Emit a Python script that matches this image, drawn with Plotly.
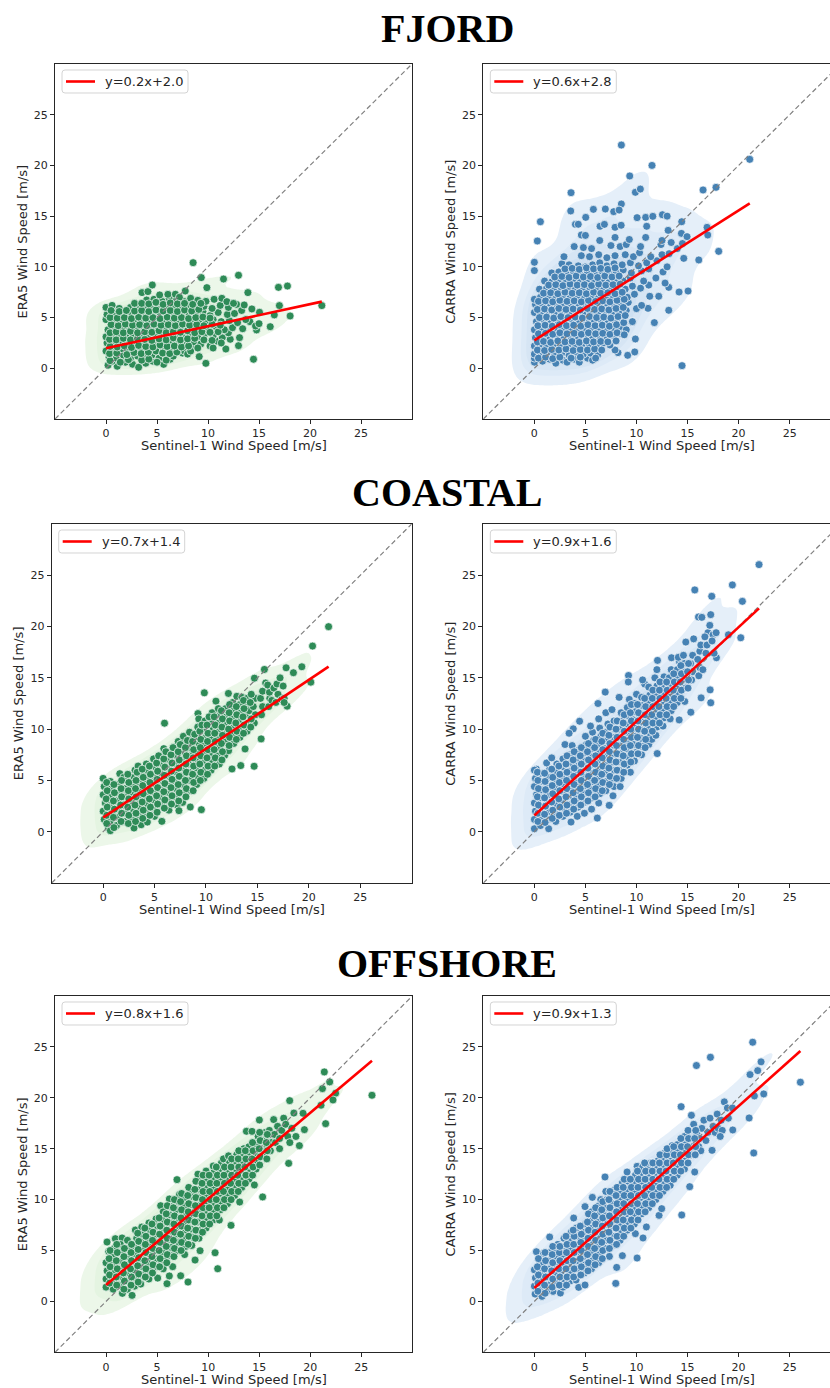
import numpy as np
import plotly.graph_objects as go

# ---------------- data ----------------
region_titles = ["FJORD", "COASTAL", "OFFSHORE"]
x_label = "Sentinel-1 Wind Speed [m/s]"
y_labels = ["ERA5 Wind Speed [m/s]", "CARRA Wind Speed [m/s]"]
tick_values = [0, 5, 10, 15, 20, 25]

# (Sentinel-1, model) pairs - outer/sparse points
fjord_era5 = [
    (0.2, 0.3), (1.1, 0.2), (1.9, 0.6), (2.6, 0.4), (3.2, 0.1), (3.9, 0.5), (4.6, 0.7), (5.65, 0.39), (6.3, 0.9), (0.6, 0.7),
    (0.3, 1.1), (1.0, 1.0), (1.7, 1.3), (2.4, 1.0), (3.1, 1.2), (3.8, 1.1), (4.5, 1.3), (5.2, 1.0), (5.9, 1.3), (6.6, 1.2), (7.5, 1.5), (9.14, 1.15),
    (0.0, 1.7), (0.7, 1.8), (1.4, 1.9), (2.1, 1.7), (2.8, 2.0), (3.5, 1.8), (4.2, 1.9), (4.9, 1.7), (5.6, 2.0), (6.3, 1.8), (7.0, 1.9), (7.7, 1.7), (8.4, 2.0), (11.75, 1.9),
    (0.1, 2.5), (0.9, 2.4), (1.6, 2.6), (2.3, 2.4), (3.0, 2.7), (3.7, 2.5), (4.4, 2.4), (5.1, 2.6), (5.8, 2.4), (6.5, 2.7), (7.2, 2.5), (7.9, 2.3), (8.6, 2.6), (9.3, 2.4), (10.87, 2.69), (12.99, 2.23), (10.2, 2.2),
    (0.0, 3.1), (0.6, 3.3), (1.3, 3.1), (2.0, 3.3), (2.7, 3.2), (3.4, 3.4), (4.1, 3.1), (4.8, 3.3), (5.5, 3.1), (6.2, 3.4), (6.9, 3.2), (7.6, 3.0), (8.3, 3.3), (9.0, 3.1), (9.7, 3.4), (10.5, 3.2), (11.4, 3.0), (12.18, 2.86), (13.09, 3.02), (12.0, 3.5),
    (0.2, 3.8), (0.9, 4.0), (1.6, 3.9), (2.3, 4.1), (3.0, 3.8), (3.7, 4.0), (4.4, 3.9), (5.1, 4.1), (5.8, 3.8), (6.5, 4.0), (7.2, 3.9), (7.9, 4.1), (8.6, 3.8), (9.3, 4.0), (10.0, 3.9), (10.8, 4.1), (11.6, 3.8), (12.4, 4.0), (13.4, 3.9), (14.76, 3.78), (14.1, 4.6), (14.66, 4.17), (15.0, 4.4),
    (0.0, 4.8), (0.7, 4.6), (1.4, 4.5), (2.1, 4.8), (2.8, 4.6), (3.5, 4.7), (4.2, 4.5), (4.9, 4.8), (5.6, 4.6), (6.3, 4.7), (7.0, 4.5), (7.7, 4.8), (8.4, 4.6), (9.1, 4.7), (9.8, 4.5), (10.5, 4.8), (11.3, 4.6), (12.1, 4.7), (12.9, 4.5), (13.7, 4.8),
    (0.1, 5.3), (0.9, 5.4), (1.7, 5.2), (2.5, 5.5), (3.2, 5.3), (3.9, 5.4), (4.6, 5.2), (5.3, 5.5), (6.0, 5.3), (6.7, 5.4), (7.4, 5.2), (8.1, 5.5), (8.8, 5.3), (9.5, 5.6), (10.2, 5.2), (11.0, 5.5), (11.9, 5.3), (12.6, 5.4), (13.3, 5.7), (14.3, 5.85), (15.05, 5.52), (16.5, 5.26), (18.05, 5.16), (16.1, 4.1),
    (0.0, 6.0), (0.6, 6.2), (1.3, 5.9), (2.4, 6.0), (3.1, 5.9), (3.8, 6.1), (4.5, 5.9), (5.2, 6.2), (5.9, 6.0), (6.6, 6.1), (7.3, 5.9), (8.0, 6.2), (8.8, 6.0), (9.6, 6.1), (10.4, 5.9), (11.2, 6.2), (12.0, 6.0), (12.8, 6.3), (13.55, 6.24), (17.0, 6.18), (21.16, 6.18),
    (3.98, 6.73), (4.7, 6.8), (5.5, 6.6), (6.2, 6.9), (6.9, 6.7), (7.6, 6.6), (8.3, 6.9), (9.0, 6.7), (9.8, 6.6), (10.6, 6.8), (11.36, 6.9), (11.85, 6.57), (12.5, 6.4),
    (3.53, 7.46), (4.11, 7.56), (4.54, 8.21), (5.26, 7.23), (6.07, 7.29), (6.8, 7.3), (7.77, 7.62), (8.54, 10.41), (9.34, 8.94), (11.52, 8.80), (12.99, 9.17), (9.89, 7.95), (13.91, 7.46), (16.91, 7.98), (17.79, 8.11), (7.2, 7.0),
    (14.46, 0.89), (9.79, 0.49), (10.5, 2.0), (11.3, 2.5), (8.0, 1.4),
]
fjord_era5_core = [
    (0.4, 0.75), (1.4, 0.6), (2.2, 0.85), (3.5, 0.8), (4.2, 0.9), (5.0, 0.6), (5.9, 0.8),
    (0.35, 1.45), (1.05, 1.5), (2.05, 1.35), (2.75, 1.55), (3.45, 1.45), (4.15, 1.6), (5.55, 1.5), (6.25, 1.45), (6.95, 1.6), (8.3, 1.7),
    (0.4, 2.15), (1.1, 2.1), (1.8, 2.2), (2.5, 2.05), (3.2, 2.25), (3.9, 2.15), (4.6, 2.1), (5.3, 2.3), (6.0, 2.15), (6.7, 2.2), (7.4, 2.1), (8.1, 2.2), (9.0, 2.0),
    (0.35, 2.85), (1.0, 2.8), (1.7, 2.95), (2.4, 2.8), (3.1, 2.95), (3.8, 2.85), (4.5, 2.75), (5.2, 2.9), (5.9, 2.8), (6.6, 3.0), (7.3, 2.8), (8.0, 2.9), (8.7, 2.95), (9.6, 2.8), (10.4, 2.75),
    (0.4, 3.5), (1.0, 3.6), (1.7, 3.5), (2.4, 3.65), (3.1, 3.5), (3.8, 3.6), (4.5, 3.55), (5.2, 3.7), (5.9, 3.5), (6.6, 3.6), (7.3, 3.55), (8.0, 3.7), (8.7, 3.5), (9.4, 3.6), (10.2, 3.55), (11.0, 3.6),
    (0.5, 4.3), (1.2, 4.2), (1.9, 4.35), (2.6, 4.25), (3.3, 4.3), (4.0, 4.2), (4.7, 4.35), (5.4, 4.25), (6.1, 4.3), (6.8, 4.2), (7.5, 4.35), (8.2, 4.25), (8.9, 4.3), (9.6, 4.2), (10.4, 4.35), (11.2, 4.25),
    (0.4, 5.0), (1.1, 4.95), (1.8, 5.0), (2.5, 4.9), (3.2, 5.05), (3.9, 4.95), (4.6, 5.0), (5.3, 4.9), (6.0, 5.05), (6.7, 4.95), (7.4, 5.0), (8.1, 4.9), (8.8, 5.0), (9.5, 5.05), (10.2, 4.95),
    (0.5, 5.7), (1.3, 5.6), (2.0, 5.7), (2.8, 5.65), (3.5, 5.7), (4.2, 5.6), (4.9, 5.75), (5.6, 5.65), (6.3, 5.7), (7.0, 5.6), (7.7, 5.75), (8.4, 5.65), (9.1, 5.8),
    (2.8, 6.4), (3.5, 6.4), (4.2, 6.35), (4.9, 6.5), (5.6, 6.3), (6.3, 6.45), (7.0, 6.35), (7.7, 6.4), (8.5, 6.3), (9.3, 6.4),
]

fjord_carra = [
    (0.0, 0.6), (0.0, 1.0), (0.8, 0.7), (1.5, 0.9), (2.1, 0.5), (2.8, 0.8), (3.2, 0.6), (3.9, 0.9), (4.4, 0.6), (5.2, 1.0), (5.7, 0.8),
    (0.0, 1.4), (0.6, 1.3), (1.3, 1.6), (2.0, 1.4), (2.7, 1.5), (3.4, 1.3), (4.1, 1.6), (4.8, 1.4), (5.5, 1.5), (6.2, 1.3), (8.19, 1.54), (9.14, 1.28), (9.83, 1.61), (7.9, 1.8),
    (0.0, 2.2), (0.5, 2.3), (1.2, 2.1), (1.9, 2.4), (2.6, 2.2), (3.3, 2.3), (4.0, 2.1), (4.7, 2.4), (5.4, 2.2), (6.1, 2.3), (6.8, 2.5), (7.4, 2.3),
    (0.1, 3.0), (0.8, 3.1), (1.5, 2.9), (2.2, 3.2), (2.9, 3.0), (3.6, 3.1), (4.3, 2.9), (5.0, 3.2), (5.7, 3.0), (6.4, 3.1), (7.1, 2.9), (7.8, 3.2), (8.5, 3.4), (9.89, 2.89),
    (0.0, 3.8), (0.7, 4.0), (1.4, 3.7), (2.1, 3.9), (2.8, 3.8), (3.5, 4.0), (4.2, 3.7), (4.9, 3.9), (5.6, 3.8), (6.3, 4.0), (7.0, 3.7), (7.7, 3.9), (8.4, 4.1), (9.0, 3.8),
    (0.2, 4.6), (0.9, 4.8), (1.6, 4.5), (2.3, 4.7), (3.0, 4.6), (3.7, 4.8), (4.4, 4.5), (5.1, 4.7), (5.8, 4.6), (6.5, 4.8), (7.2, 4.5), (7.9, 4.7), (8.6, 4.9), (9.6, 4.6), (11.75, 4.5),
    (0.0, 5.5), (0.6, 5.4), (1.3, 5.6), (2.0, 5.3), (2.7, 5.5), (3.4, 5.4), (4.1, 5.6), (4.8, 5.3), (5.5, 5.5), (6.2, 5.4), (6.9, 5.6), (7.6, 5.3), (8.3, 5.5), (9.0, 5.7), (10.0, 5.88), (11.13, 5.91), (13.16, 5.72),
    (0.1, 6.3), (0.8, 6.2), (1.5, 6.4), (2.2, 6.1), (2.9, 6.3), (3.6, 6.2), (4.3, 6.4), (5.0, 6.1), (5.7, 6.3), (6.4, 6.2), (7.1, 6.4), (7.8, 6.1), (8.5, 6.3), (9.2, 6.5), (10.5, 6.2),
    (0.0, 6.8), (0.6, 7.0), (1.4, 7.1), (2.1, 6.9), (2.8, 7.2), (3.5, 7.0), (4.2, 7.1), (4.9, 6.9), (5.6, 7.2), (6.3, 7.0), (7.0, 7.1), (7.7, 6.9), (8.4, 7.2), (9.1, 7.0), (9.8, 7.3), (11.3, 7.1), (12.18, 7.1), (14.17, 7.52), (15.05, 7.62),
    (0.5, 7.8), (1.2, 7.9), (1.9, 7.7), (2.6, 8.0), (3.3, 7.8), (4.0, 7.9), (4.7, 7.7), (5.4, 8.0), (6.1, 7.8), (6.8, 7.9), (7.5, 7.7), (8.2, 8.0), (8.9, 7.8), (9.6, 8.1), (10.4, 7.9), (11.2, 8.2), (13.16, 7.98),
    (1.0, 8.6), (1.7, 8.5), (2.4, 8.8), (3.1, 8.6), (3.8, 8.7), (4.5, 8.5), (5.2, 8.8), (5.9, 8.6), (6.6, 8.7), (7.3, 8.5), (8.0, 8.8), (8.7, 8.6), (9.4, 8.9), (10.7, 8.6), (11.9, 8.9), (12.8, 8.4),
    (1.7, 9.4), (2.4, 9.5), (3.1, 9.3), (3.8, 9.6), (4.5, 9.4), (5.2, 9.5), (5.9, 9.3), (6.6, 9.6), (7.3, 9.4), (8.0, 9.5), (8.7, 9.7), (9.5, 9.4), (10.5, 9.6), (11.2, 9.8), (12.6, 9.5), (0.0, 9.63),
    (2.7, 10.3), (3.4, 10.2), (4.3, 10.1), (5.0, 10.0), (5.7, 10.2), (6.4, 10.4), (7.1, 10.1), (7.8, 10.3), (8.6, 10.2), (9.4, 10.4), (10.2, 10.1), (11.0, 10.4), (12.0, 10.6), (13.0, 10.0), (14.63, 10.84), (16.1, 10.68), (0.0, 10.45),
    (2.9, 11.0), (4.6, 11.1), (5.4, 11.0), (6.3, 11.2), (7.1, 10.9), (7.9, 11.1), (8.9, 11.2), (9.7, 11.0), (10.3, 11.4), (11.4, 11.0), (12.5, 11.2), (13.2, 11.3), (14.0, 11.8), (18.05, 11.53),
    (3.9, 12.0), (4.8, 11.9), (5.6, 11.8), (7.5, 12.1), (8.4, 12.0), (9.0, 12.2), (10.4, 12.0), (12.4, 12.2), (13.4, 12.4), (14.5, 12.3),
    (4.6, 13.14), (5.0, 13.1), (6.4, 12.6), (7.9, 12.9), (9.3, 12.7), (10.9, 12.9), (12.5, 12.6), (13.1, 13.6), (14.4, 13.3), (14.95, 12.98), (16.91, 13.9), (16.98, 13.14),
    (4.02, 14.19), (4.3, 14.2), (5.03, 14.88), (6.43, 14.0), (6.86, 14.19), (7.9, 13.9), (8.5, 14.1), (10.06, 14.85), (10.9, 14.88), (11.6, 14.98), (12.54, 15.14), (13.0, 15.0), (14.43, 14.45), (11.0, 14.0),
    (0.59, 14.45), (0.29, 12.55), (3.56, 15.51), (3.59, 17.31), (5.78, 15.67), (6.95, 15.7), (7.77, 15.44), (8.52, 16.2), (8.3, 15.6), (9.89, 17.35), (10.38, 17.67), (9.34, 18.96), (11.52, 20.0), (8.52, 22.01), (16.52, 17.58), (17.79, 17.84), (21.09, 20.6),
    (14.46, 0.26), (9.6, 4.6), (12.18, 7.1),
]
fjord_carra_core = [
    (0.4, 1.0), (1.1, 1.1), (1.8, 0.95), (2.5, 1.1), (3.6, 1.0), (4.5, 1.1), (6.0, 1.0),
    (0.3, 1.8), (1.0, 1.75), (1.7, 1.85), (2.4, 1.8), (3.1, 1.9), (3.8, 1.75), (4.5, 1.85), (5.2, 1.8), (5.9, 1.9), (6.6, 1.8),
    (0.3, 2.6), (0.9, 2.65), (1.6, 2.55), (2.3, 2.7), (3.0, 2.6), (3.7, 2.65), (4.4, 2.55), (5.1, 2.7), (5.8, 2.6), (6.5, 2.65), (7.2, 2.6), (8.0, 2.7),
    (0.4, 3.4), (1.1, 3.45), (1.8, 3.35), (2.5, 3.5), (3.2, 3.4), (3.9, 3.45), (4.6, 3.35), (5.3, 3.5), (6.0, 3.4), (6.7, 3.45), (7.4, 3.35), (8.1, 3.5), (8.8, 3.3),
    (0.35, 4.2), (1.05, 4.25), (1.75, 4.15), (2.45, 4.3), (3.15, 4.2), (3.85, 4.25), (4.55, 4.15), (5.25, 4.3), (5.95, 4.2), (6.65, 4.25), (7.35, 4.15), (8.05, 4.3), (8.75, 4.5),
    (0.5, 5.0), (1.2, 5.05), (1.9, 4.95), (2.6, 5.1), (3.3, 5.0), (4.0, 5.05), (4.7, 4.95), (5.4, 5.1), (6.1, 5.0), (6.8, 5.05), (7.5, 4.95), (8.2, 5.1), (8.9, 5.2),
    (0.3, 5.8), (1.0, 5.85), (1.7, 5.75), (2.4, 5.9), (3.1, 5.8), (3.8, 5.85), (4.5, 5.75), (5.2, 5.9), (5.9, 5.8), (6.6, 5.85), (7.3, 5.75), (8.0, 5.9), (8.7, 6.0),
    (0.4, 6.6), (1.1, 6.65), (1.8, 6.55), (2.5, 6.7), (3.2, 6.6), (3.9, 6.65), (4.6, 6.55), (5.3, 6.7), (6.0, 6.6), (6.7, 6.65), (7.4, 6.55), (8.1, 6.7), (8.8, 6.8),
    (0.9, 7.4), (1.6, 7.45), (2.3, 7.35), (3.0, 7.5), (3.7, 7.4), (4.4, 7.45), (5.1, 7.35), (5.8, 7.5), (6.5, 7.4), (7.2, 7.45), (7.9, 7.35), (8.6, 7.5),
    (1.4, 8.2), (2.1, 8.25), (2.8, 8.15), (3.5, 8.3), (4.2, 8.2), (4.9, 8.25), (5.6, 8.15), (6.3, 8.3), (7.0, 8.2), (7.7, 8.25), (8.4, 8.3),
    (2.0, 9.0), (2.7, 9.05), (3.4, 8.95), (4.1, 9.1), (4.8, 9.0), (5.5, 9.05), (6.2, 8.95), (6.9, 9.1), (7.6, 9.0), (8.3, 9.1),
    (3.0, 9.8), (3.7, 9.85), (4.4, 9.75), (5.1, 9.9), (5.8, 9.8), (6.5, 9.85), (7.2, 9.75), (7.9, 9.9),
]

coastal_era5 = [
    (0.0, 5.2), (0.1, 4.4), (0.0, 3.6), (0.2, 2.8), (0.0, 2.0), (0.1, 1.2), (0.5, 0.36),
    (0.7, 0.1), (0.7, 1.0), (0.8, 1.8), (0.7, 2.6), (0.6, 3.4), (0.8, 4.2), (0.7, 4.9),
    (1.3, 0.6), (1.4, 1.4), (1.5, 2.2), (1.3, 3.0), (1.5, 3.8), (1.4, 4.6), (1.62, 5.66),
    (2.1, 1.0), (2.2, 1.8), (2.0, 2.6), (2.2, 3.4), (2.1, 4.2), (2.3, 5.0), (2.0, 5.3),
    (3.0, 0.36), (2.8, 1.3), (2.9, 2.1), (2.7, 2.9), (2.9, 3.7), (2.8, 4.5), (3.0, 5.3), (3.1, 6.0),
    (3.7, 0.68), (3.5, 1.6), (3.6, 2.4), (3.4, 3.2), (3.6, 4.0), (3.5, 4.8), (3.7, 5.6), (3.4, 6.4),
    (4.3, 0.94), (4.2, 1.9), (4.3, 2.7), (4.1, 3.5), (4.3, 4.3), (4.2, 5.1), (4.4, 5.9), (4.2, 6.6),
    (5.0, 1.5), (4.9, 2.3), (5.0, 3.1), (4.8, 3.9), (5.0, 4.7), (4.9, 5.5), (5.1, 6.3), (4.9, 7.1),
    (5.71, 1.01), (5.6, 2.6), (5.7, 3.4), (5.5, 4.2), (5.7, 5.0), (5.6, 5.8), (5.8, 6.6), (5.6, 7.4), (5.9, 8.1), (5.97, 10.58),
    (6.4, 2.1), (6.3, 3.0), (6.4, 3.8), (6.2, 4.6), (6.4, 5.4), (6.3, 6.2), (6.5, 7.0), (6.3, 7.8),
    (7.2, 2.6), (7.0, 3.4), (7.1, 4.2), (6.9, 5.0), (7.1, 5.8), (7.0, 6.6), (7.2, 7.4), (7.0, 8.2), (7.3, 8.8),
    (7.37, 2.05), (7.73, 2.86), (7.7, 3.8), (7.8, 4.6), (7.6, 5.4), (7.8, 6.2), (7.7, 7.0), (7.9, 7.8), (7.7, 8.6), (7.8, 9.3),
    (8.47, 2.41), (8.54, 4.0), (8.4, 5.0), (8.5, 5.8), (8.3, 6.6), (8.5, 7.4), (8.4, 8.2), (8.6, 9.0), (8.4, 9.7),
    (9.55, 2.15), (9.1, 4.6), (9.2, 5.4), (9.0, 6.2), (9.2, 7.0), (9.1, 7.8), (9.3, 8.6), (9.1, 9.4), (9.2, 10.2), (9.22, 11.52), (9.3, 11.0),
    (9.8, 5.2), (9.9, 6.0), (9.7, 6.8), (9.9, 7.6), (9.8, 8.4), (10.0, 9.2), (9.8, 10.0), (9.9, 10.8), (9.84, 13.54),
    (10.5, 6.0), (10.6, 6.8), (10.4, 7.6), (10.6, 8.4), (10.5, 9.2), (10.7, 10.0), (10.5, 10.8), (10.6, 11.6), (10.97, 12.73),
    (11.3, 6.6), (11.2, 7.4), (11.3, 8.2), (11.1, 9.0), (11.3, 9.8), (11.2, 10.6), (11.4, 11.4), (11.2, 12.0),
    (11.82, 7.45), (12.2, 7.9), (11.9, 8.8), (12.0, 9.6), (11.8, 10.4), (12.0, 11.2), (11.9, 12.0), (12.18, 13.48), (12.53, 6.12),
    (12.7, 8.6), (12.6, 9.4), (12.7, 10.2), (12.5, 11.0), (12.7, 11.8), (12.6, 12.6), (13.0, 13.2),
    (13.3, 9.2), (13.4, 10.0), (13.2, 10.8), (13.4, 11.6), (13.3, 12.4), (13.5, 13.1), (13.38, 6.45), (13.8, 8.07),
    (14.0, 9.8), (14.1, 10.6), (13.9, 11.4), (14.1, 12.2), (14.0, 13.0), (14.71, 14.97), (14.2, 11.8),
    (14.7, 10.6), (14.8, 11.4), (14.6, 12.2), (14.8, 13.0), (14.68, 6.38), (15.36, 9.05),
    (15.4, 11.4), (15.5, 12.2), (15.3, 13.0), (15.5, 13.7), (15.68, 15.82), (15.8, 14.5),
    (16.1, 12.2), (16.2, 13.0), (16.17, 13.6), (16.0, 14.3), (16.4, 12.8), (16.6, 14.0),
    (16.8, 12.6), (17.0, 13.4), (16.9, 14.4), (17.37, 12.89), (17.2, 15.0), (17.6, 13.0),
    (17.89, 12.24), (17.5, 14.2), (17.79, 15.98), (17.6, 12.6),
    (21.92, 19.99), (20.36, 18.1), (19.32, 16.08), (20.19, 14.58), (18.5, 15.5),
]
coastal_era5_core = [
    (0.35, 0.8), (0.35, 1.6), (0.4, 2.4), (0.3, 3.2), (0.4, 4.0), (0.35, 4.8),
    (1.05, 0.4), (1.0, 1.4), (1.1, 2.2), (1.0, 3.0), (1.1, 3.8), (1.05, 4.6),
    (1.75, 1.0), (1.8, 1.8), (1.7, 2.6), (1.8, 3.4), (1.75, 4.2), (1.8, 5.0),
    (2.45, 0.8), (2.5, 1.6), (2.4, 2.4), (2.5, 3.2), (2.45, 4.0), (2.5, 4.8), (2.4, 5.6),
    (3.15, 1.0), (3.2, 1.8), (3.1, 2.6), (3.2, 3.4), (3.15, 4.2), (3.2, 5.0), (3.3, 5.8),
    (3.85, 1.3), (3.9, 2.1), (3.8, 2.9), (3.9, 3.7), (3.85, 4.5), (3.9, 5.3), (3.8, 6.1),
    (4.55, 1.6), (4.6, 2.4), (4.5, 3.2), (4.6, 4.0), (4.55, 4.8), (4.6, 5.6), (4.5, 6.4),
    (5.25, 1.9), (5.3, 2.7), (5.2, 3.5), (5.3, 4.3), (5.25, 5.1), (5.3, 5.9), (5.2, 6.7), (5.4, 7.4),
    (5.95, 2.3), (6.0, 3.1), (5.9, 3.9), (6.0, 4.7), (5.95, 5.5), (6.0, 6.3), (5.9, 7.1), (6.1, 7.8),
    (6.65, 2.7), (6.7, 3.5), (6.6, 4.3), (6.7, 5.1), (6.65, 5.9), (6.7, 6.7), (6.6, 7.5), (6.8, 8.2),
    (7.35, 3.0), (7.4, 3.8), (7.3, 4.6), (7.4, 5.4), (7.35, 6.2), (7.4, 7.0), (7.3, 7.8), (7.5, 8.5),
    (8.05, 3.4), (8.1, 4.2), (8.0, 5.0), (8.1, 5.8), (8.05, 6.6), (8.1, 7.4), (8.0, 8.2), (8.2, 8.9),
    (8.75, 4.0), (8.8, 4.8), (8.7, 5.6), (8.8, 6.4), (8.75, 7.2), (8.8, 8.0), (8.7, 8.8), (8.9, 9.5),
    (9.45, 5.0), (9.5, 5.8), (9.4, 6.6), (9.5, 7.4), (9.45, 8.2), (9.5, 9.0), (9.4, 9.8), (9.6, 10.4),
    (10.15, 5.6), (10.2, 6.4), (10.1, 7.2), (10.2, 8.0), (10.15, 8.8), (10.2, 9.6), (10.1, 10.4), (10.3, 11.2),
    (10.85, 6.4), (10.9, 7.2), (10.8, 8.0), (10.9, 8.8), (10.85, 9.6), (10.9, 10.4), (10.8, 11.2),
    (11.55, 7.0), (11.6, 7.8), (11.5, 8.6), (11.6, 9.4), (11.55, 10.2), (11.6, 11.0), (11.5, 11.8),
    (12.25, 8.4), (12.3, 9.2), (12.2, 10.0), (12.3, 10.8), (12.25, 11.6), (12.3, 12.4),
    (12.95, 9.0), (13.0, 9.8), (12.9, 10.6), (13.0, 11.4), (12.95, 12.2),
    (13.65, 9.6), (13.7, 10.4), (13.6, 11.2), (13.7, 12.0), (13.65, 12.8),
    (14.35, 10.2), (14.4, 11.0), (14.3, 12.6), (14.4, 13.4),
]

coastal_carra = [
    (0.0, 0.29), (0.0, 1.2), (0.1, 2.0), (0.0, 2.8), (0.2, 3.6), (0.0, 4.4), (0.1, 5.2), (0.2, 6.1), (0.0, 6.0),
    (0.6, 0.6), (0.7, 1.5), (0.8, 2.4), (0.6, 3.3), (0.7, 4.1), (0.8, 4.9), (0.6, 5.7),
    (1.4, 0.29), (1.3, 1.2), (1.5, 2.0), (1.4, 2.8), (1.3, 3.6), (1.5, 4.4), (1.4, 5.3), (1.5, 6.1), (1.2, 6.7),
    (2.1, 1.0), (2.0, 1.8), (2.2, 2.6), (2.1, 3.4), (2.0, 4.2), (2.2, 5.0), (2.1, 5.8), (2.2, 6.6), (1.7, 7.2),
    (2.8, 1.5), (2.9, 2.3), (2.7, 3.1), (2.9, 3.9), (2.8, 4.7), (2.7, 5.5), (2.9, 6.3), (2.8, 7.1), (3.0, 8.5),
    (3.59, 0.94), (3.5, 1.9), (3.6, 2.7), (3.4, 3.5), (3.6, 4.3), (3.5, 5.1), (3.4, 5.9), (3.6, 6.7), (3.5, 7.5), (3.7, 8.4),
    (4.2, 1.5), (4.3, 2.4), (4.1, 3.2), (4.3, 4.0), (4.2, 4.8), (4.1, 5.6), (4.3, 6.4), (4.2, 7.2), (4.4, 8.0), (3.81, 10.03), (4.43, 10.77), (3.4, 9.6),
    (4.9, 1.8), (5.0, 2.9), (4.8, 3.7), (5.0, 4.5), (4.9, 5.3), (4.8, 6.1), (5.0, 6.9), (4.9, 7.7), (5.1, 8.5), (5.0, 9.3),
    (5.6, 2.2), (5.7, 3.3), (5.5, 4.1), (5.7, 4.9), (5.6, 5.7), (5.5, 6.5), (5.7, 7.3), (5.6, 8.1), (5.8, 8.9), (5.7, 9.7), (5.5, 10.3), (6.16, 1.33),
    (6.3, 2.8), (6.4, 3.7), (6.2, 4.5), (6.4, 5.3), (6.3, 6.1), (6.2, 6.9), (6.4, 7.7), (6.3, 8.5), (6.5, 9.3), (6.4, 10.1), (6.23, 12.5), (6.3, 11.0),
    (7.33, 2.57), (7.0, 4.0), (7.1, 4.9), (6.9, 5.7), (7.1, 6.5), (7.0, 7.3), (6.9, 8.1), (7.1, 8.9), (7.0, 9.7), (7.2, 10.5), (7.0, 11.6), (6.94, 13.61),
    (7.7, 3.5), (7.8, 4.4), (7.6, 5.2), (7.8, 6.0), (7.7, 6.8), (7.6, 7.6), (7.8, 8.4), (7.7, 9.2), (7.9, 10.0), (7.8, 10.8), (7.6, 11.9),
    (8.4, 4.4), (8.5, 5.2), (8.3, 6.0), (8.5, 6.8), (8.4, 7.6), (8.3, 8.4), (8.5, 9.2), (8.4, 10.0), (8.6, 10.8), (8.5, 11.6), (8.3, 13.1),
    (9.4, 5.8), (9.1, 6.5), (9.2, 7.3), (9.0, 8.1), (9.2, 8.9), (9.1, 9.7), (9.0, 10.5), (9.2, 11.3), (9.1, 12.1), (9.3, 12.9), (9.22, 15.23), (9.2, 14.6),
    (9.8, 6.9), (9.9, 7.7), (9.7, 8.5), (9.9, 9.3), (9.8, 10.1), (9.7, 10.9), (9.9, 11.7), (9.8, 12.5), (10.0, 13.4),
    (10.5, 7.5), (10.6, 8.3), (10.4, 9.1), (10.6, 9.9), (10.5, 10.7), (10.4, 11.5), (10.6, 12.3), (10.5, 13.1), (10.8, 14.4), (10.6, 14.8),
    (11.2, 8.5), (11.3, 9.3), (11.1, 10.1), (11.3, 10.9), (11.2, 11.7), (11.1, 12.5), (11.3, 13.3), (11.2, 14.1), (11.5, 9.0),
    (12.03, 7.62), (11.9, 9.4), (12.0, 10.2), (11.8, 11.0), (12.0, 11.8), (11.9, 12.6), (11.8, 13.4), (12.0, 14.2), (12.06, 16.7), (12.0, 15.8), (11.8, 15.0),
    (12.6, 10.3), (12.7, 11.1), (12.5, 11.9), (12.7, 12.7), (12.6, 13.5), (12.5, 14.3), (12.7, 15.1),
    (13.3, 11.0), (13.4, 11.8), (13.2, 12.6), (13.4, 13.4), (13.3, 14.2), (13.2, 15.0), (13.4, 15.8), (13.43, 16.96),
    (14.18, 10.9), (14.0, 12.6), (14.1, 13.4), (13.9, 14.2), (14.1, 15.0), (14.0, 15.8), (14.2, 16.6), (14.1, 17.0),
    (14.73, 12.7), (14.8, 14.0), (14.6, 14.8), (14.8, 15.6), (14.7, 16.4), (14.83, 18.49), (14.6, 17.2),
    (15.32, 11.65), (15.4, 14.8), (15.5, 15.6), (15.3, 16.4), (15.5, 17.2), (15.71, 23.57), (15.6, 18.8),
    (16.33, 13.05), (16.1, 15.2), (16.2, 16.0), (16.0, 16.8), (16.2, 17.6), (16.07, 20.93), (16.4, 20.9), (16.3, 18.2), (16.5, 15.8),
    (16.8, 17.4), (16.9, 18.2), (17.0, 19.4), (16.7, 19.0),
    (17.21, 13.83), (17.27, 12.57), (17.18, 20.12), (17.27, 21.16), (17.37, 22.95), (17.83, 16.96), (17.5, 19.2), (17.8, 19.4), (17.4, 18.6), (17.6, 17.4),
    (22.0, 26.04), (19.39, 24.06), (20.37, 22.46), (20.21, 18.91), (19.0, 19.2),
]
coastal_carra_core = [
    (0.35, 1.0), (0.35, 1.8), (0.4, 2.6), (0.3, 3.4), (0.4, 4.2), (0.35, 5.0), (0.3, 5.8),
    (1.05, 0.9), (1.0, 1.7), (1.1, 2.5), (1.0, 3.3), (1.1, 4.1), (1.05, 4.9), (1.0, 5.7),
    (1.75, 1.3), (1.8, 2.1), (1.7, 2.9), (1.8, 3.7), (1.75, 4.5), (1.8, 5.3), (1.7, 6.1),
    (2.45, 1.6), (2.5, 2.4), (2.4, 3.2), (2.5, 4.0), (2.45, 4.8), (2.5, 5.6), (2.4, 6.4),
    (3.15, 1.8), (3.2, 2.6), (3.1, 3.4), (3.2, 4.2), (3.15, 5.0), (3.2, 5.8), (3.1, 6.6), (3.2, 7.4),
    (3.85, 2.2), (3.9, 3.0), (3.8, 3.8), (3.9, 4.6), (3.85, 5.4), (3.9, 6.2), (3.8, 7.0), (3.9, 7.8),
    (4.55, 2.6), (4.6, 3.4), (4.5, 4.2), (4.6, 5.0), (4.55, 5.8), (4.6, 6.6), (4.5, 7.4), (4.6, 8.2),
    (5.25, 3.0), (5.3, 3.8), (5.2, 4.6), (5.3, 5.4), (5.25, 6.2), (5.3, 7.0), (5.2, 7.8), (5.3, 8.6),
    (5.95, 3.4), (6.0, 4.2), (5.9, 5.0), (6.0, 5.8), (5.95, 6.6), (6.0, 7.4), (5.9, 8.2), (6.0, 9.0),
    (6.65, 4.0), (6.7, 4.8), (6.6, 5.6), (6.7, 6.4), (6.65, 7.2), (6.7, 8.0), (6.6, 8.8), (6.7, 9.6),
    (7.35, 4.6), (7.4, 5.4), (7.3, 6.2), (7.4, 7.0), (7.35, 7.8), (7.4, 8.6), (7.3, 9.4), (7.4, 10.2),
    (8.05, 5.2), (8.1, 6.0), (8.0, 6.8), (8.1, 7.6), (8.05, 8.4), (8.1, 9.2), (8.0, 10.0), (8.1, 10.8),
    (8.75, 5.8), (8.8, 6.6), (8.7, 7.4), (8.8, 8.2), (8.75, 9.0), (8.8, 9.8), (8.7, 10.6), (8.8, 11.4),
    (9.45, 6.8), (9.5, 7.6), (9.4, 8.4), (9.5, 9.2), (9.45, 10.0), (9.5, 10.8), (9.4, 11.6), (9.5, 12.4),
    (10.15, 7.6), (10.2, 8.4), (10.1, 9.2), (10.2, 10.0), (10.15, 10.8), (10.2, 11.6), (10.1, 12.4),
    (10.85, 8.2), (10.9, 9.0), (10.8, 9.8), (10.9, 10.6), (10.85, 11.4), (10.9, 12.2), (10.8, 13.0),
    (11.55, 9.8), (11.6, 10.6), (11.5, 11.4), (11.6, 12.2), (11.55, 13.0), (11.6, 13.8),
    (12.25, 10.6), (12.3, 11.4), (12.2, 12.2), (12.3, 13.0), (12.25, 13.8), (12.3, 14.6),
    (12.95, 11.4), (13.0, 12.2), (12.9, 13.0), (13.0, 13.8), (12.95, 14.6),
    (13.65, 12.2), (13.7, 13.0), (13.6, 13.8), (13.7, 14.6), (13.65, 15.4),
    (14.35, 13.0), (14.4, 13.8), (14.3, 14.6), (14.4, 15.4), (14.35, 16.2),
    (15.05, 14.0), (15.1, 14.8), (15.0, 15.6), (15.1, 16.4),
]

offshore_era5 = [
    (0.0, 1.4), (0.0, 2.2), (0.1, 3.0), (0.0, 3.8), (0.26, 4.91), (0.1, 5.83),
    (0.7, 1.2), (0.6, 2.0), (0.8, 2.8), (0.7, 3.6), (0.6, 4.4), (0.91, 6.16), (0.8, 5.2),
    (1.6, 0.79), (1.4, 1.6), (1.5, 2.4), (1.3, 3.2), (1.5, 4.0), (1.4, 4.8), (1.57, 6.23), (1.4, 5.6),
    (2.1, 1.2), (2.0, 2.0), (2.2, 2.8), (2.1, 3.6), (2.0, 4.4), (2.2, 5.2), (2.1, 6.0),
    (2.55, 0.59), (2.8, 1.5), (2.9, 2.3), (2.7, 3.1), (2.9, 3.9), (2.8, 4.7), (2.7, 5.5), (2.87, 7.01), (3.0, 6.2),
    (3.4, 1.7), (3.5, 2.6), (3.6, 3.4), (3.4, 4.2), (3.6, 5.0), (3.5, 5.8), (3.6, 6.6), (3.5, 7.3),
    (4.2, 2.2), (4.3, 3.0), (4.1, 3.8), (4.3, 4.6), (4.2, 5.4), (4.1, 6.2), (4.3, 7.0), (4.2, 7.7),
    (5.06, 2.29), (4.9, 3.4), (5.0, 4.2), (4.8, 5.0), (5.0, 5.8), (4.9, 6.6), (5.0, 7.4), (4.9, 8.1), (5.35, 9.4),
    (5.97, 1.74), (5.6, 3.2), (5.7, 4.0), (5.5, 4.8), (5.7, 5.6), (5.6, 6.4), (5.5, 7.2), (5.7, 8.0), (5.6, 8.8), (6.2, 10.06),
    (6.53, 3.41), (6.3, 4.5), (6.4, 5.3), (6.2, 6.1), (6.4, 6.9), (6.3, 7.7), (6.2, 8.5), (6.4, 9.3), (6.95, 11.96), (6.2, 2.5),
    (7.31, 2.52), (7.0, 5.0), (7.1, 5.8), (6.9, 6.6), (7.1, 7.4), (7.0, 8.2), (6.9, 9.0), (7.1, 9.8), (7.2, 10.5),
    (7.7, 4.6), (7.8, 5.4), (7.6, 6.2), (7.8, 7.0), (7.7, 7.8), (7.6, 8.6), (7.8, 9.4), (7.7, 10.2), (8.03, 1.9),
    (8.72, 4.06), (8.4, 5.5), (8.5, 6.3), (8.3, 7.1), (8.5, 7.9), (8.4, 8.7), (8.3, 9.5), (8.5, 10.3), (8.4, 11.0),
    (9.21, 4.98), (9.1, 6.2), (9.2, 7.0), (9.0, 7.8), (9.2, 8.6), (9.1, 9.4), (9.0, 10.2), (9.2, 11.0), (9.1, 11.8), (9.0, 12.5),
    (9.8, 7.2), (9.9, 8.0), (9.7, 8.8), (9.9, 9.6), (9.8, 10.4), (9.7, 11.2), (9.9, 12.0), (9.8, 12.8),
    (10.68, 4.78), (10.94, 3.21), (10.5, 8.0), (10.6, 8.8), (10.4, 9.6), (10.6, 10.4), (10.5, 11.2), (10.4, 12.0), (10.6, 12.8), (10.5, 13.3), (11.1, 7.99),
    (11.2, 9.0), (11.3, 9.8), (11.1, 10.6), (11.3, 11.4), (11.2, 12.2), (11.1, 13.0), (11.3, 13.6), (11.5, 14.0),
    (12.24, 7.47), (11.9, 9.6), (12.0, 10.4), (11.8, 11.2), (12.0, 12.0), (11.9, 12.8), (12.1, 13.6), (12.0, 14.3),
    (12.6, 10.4), (12.7, 11.2), (12.5, 12.0), (12.7, 12.8), (12.6, 13.6), (12.8, 14.4), (13.09, 9.76),
    (13.3, 11.2), (13.4, 12.0), (13.2, 12.8), (13.4, 13.6), (13.3, 14.4), (13.5, 15.0),
    (14.0, 12.0), (14.1, 12.8), (13.9, 13.6), (14.1, 14.4), (14.0, 15.2), (13.75, 16.71), (14.53, 11.44), (14.3, 16.7),
    (14.7, 13.0), (14.8, 13.8), (14.6, 14.6), (14.8, 15.4), (15.02, 17.82), (15.34, 10.26), (14.9, 16.2),
    (15.4, 14.2), (15.5, 15.0), (15.3, 15.8), (15.6, 16.6), (16.0, 16.8), (15.8, 15.2),
    (16.1, 14.8), (16.2, 15.6), (16.42, 17.86), (16.5, 16.4), (16.8, 17.2), (16.6, 15.6),
    (17.0, 16.0), (17.2, 16.8), (17.4, 18.0), (17.0, 15.0), (17.8, 16.2), (17.89, 13.56), (17.99, 19.72), (17.6, 17.4), (18.2, 17.0), (18.4, 18.5),
    (18.94, 15.3), (18.6, 16.2), (19.3, 18.48), (19.43, 16.87), (18.0, 15.6),
    (26.05, 20.25), (21.38, 22.54), (21.91, 21.56), (21.2, 20.9), (22.49, 20.45), (22.23, 19.79), (21.06, 19.27), (21.51, 17.46),
]
offshore_era5_core = [
    (0.35, 1.8), (0.35, 2.6), (0.4, 3.4), (0.3, 4.2), (0.4, 5.0),
    (1.05, 1.6), (1.0, 2.4), (1.1, 3.2), (1.0, 4.0), (1.1, 4.8), (1.05, 5.6),
    (1.75, 1.2), (1.8, 2.0), (1.7, 2.8), (1.8, 3.6), (1.75, 4.4), (1.8, 5.2),
    (2.45, 1.6), (2.5, 2.4), (2.4, 3.2), (2.5, 4.0), (2.45, 4.8), (2.5, 5.6),
    (3.15, 1.9), (3.2, 2.7), (3.1, 3.5), (3.2, 4.3), (3.15, 5.1), (3.2, 5.9), (3.1, 6.7),
    (3.85, 2.4), (3.9, 3.2), (3.8, 4.0), (3.9, 4.8), (3.85, 5.6), (3.9, 6.4), (3.8, 7.2),
    (4.55, 2.8), (4.6, 3.6), (4.5, 4.4), (4.6, 5.2), (4.55, 6.0), (4.6, 6.8), (4.5, 7.6),
    (5.25, 3.4), (5.3, 4.2), (5.2, 5.0), (5.3, 5.8), (5.25, 6.6), (5.3, 7.4), (5.2, 8.2),
    (5.95, 3.8), (6.0, 4.6), (5.9, 5.4), (6.0, 6.2), (5.95, 7.0), (6.0, 7.8), (5.9, 8.6), (6.0, 9.4),
    (6.65, 4.4), (6.7, 5.2), (6.6, 6.0), (6.7, 6.8), (6.65, 7.6), (6.7, 8.4), (6.6, 9.2), (6.7, 10.0),
    (7.35, 5.0), (7.4, 5.8), (7.3, 6.6), (7.4, 7.4), (7.35, 8.2), (7.4, 9.0), (7.3, 9.8), (7.4, 10.6),
    (8.05, 5.6), (8.1, 6.4), (8.0, 7.2), (8.1, 8.0), (8.05, 8.8), (8.1, 9.6), (8.0, 10.4), (8.1, 11.2),
    (8.75, 6.2), (8.8, 7.0), (8.7, 7.8), (8.8, 8.6), (8.75, 9.4), (8.8, 10.2), (8.7, 11.0), (8.8, 11.8),
    (9.45, 6.8), (9.5, 7.6), (9.4, 8.4), (9.5, 9.2), (9.45, 10.0), (9.5, 10.8), (9.4, 11.6), (9.5, 12.4),
    (10.15, 7.6), (10.2, 8.4), (10.1, 9.2), (10.2, 10.0), (10.15, 10.8), (10.2, 11.6), (10.1, 12.4),
    (10.85, 8.4), (10.9, 9.2), (10.8, 10.0), (10.9, 10.8), (10.85, 11.6), (10.9, 12.4), (10.8, 13.2),
    (11.55, 9.2), (11.6, 10.0), (11.5, 10.8), (11.6, 11.6), (11.55, 12.4), (11.6, 13.2),
    (12.25, 10.0), (12.3, 10.8), (12.2, 11.6), (12.3, 12.4), (12.25, 13.2), (12.3, 14.0),
    (12.95, 10.8), (13.0, 11.6), (12.9, 12.4), (13.0, 13.2), (12.95, 14.0), (13.0, 14.8),
    (13.65, 11.6), (13.7, 12.4), (13.6, 13.2), (13.7, 14.0), (13.65, 14.8),
    (14.35, 12.4), (14.4, 13.2), (14.3, 14.0), (14.4, 14.8), (14.35, 15.6),
    (15.05, 13.4), (15.1, 14.2), (15.0, 15.0), (15.1, 15.8), (15.05, 16.6),
    (15.75, 14.0), (15.8, 14.8), (15.7, 15.6), (15.8, 16.4),
]

offshore_carra = [
    (0.07, 0.72), (0.0, 1.5), (0.1, 2.3), (0.0, 3.1), (0.2, 4.88),
    (0.75, 0.49), (0.7, 1.3), (0.6, 2.1), (0.8, 2.9), (0.7, 3.7), (0.91, 4.72),
    (1.83, 0.98), (1.4, 1.6), (1.3, 2.4), (1.5, 3.2), (1.4, 4.0), (1.5, 4.8), (1.5, 6.32), (1.2, 1.0),
    (2.55, 0.82), (2.1, 1.9), (2.2, 2.7), (2.0, 3.5), (2.2, 4.3), (2.1, 5.1), (2.3, 5.6),
    (2.8, 1.4), (2.9, 2.2), (2.7, 3.0), (2.9, 3.8), (2.8, 4.6), (2.7, 5.4), (2.9, 6.2),
    (3.5, 2.0), (3.6, 2.8), (3.4, 3.6), (3.6, 4.4), (3.5, 5.2), (3.4, 6.0), (3.6, 6.8), (3.85, 8.19),
    (4.34, 1.38), (4.08, 2.1), (4.2, 3.2), (4.3, 4.0), (4.1, 4.8), (4.3, 5.6), (4.2, 6.4), (4.1, 7.2), (4.96, 1.61),
    (4.9, 2.8), (5.0, 3.6), (4.8, 4.4), (5.0, 5.2), (4.9, 6.0), (4.8, 6.8), (5.0, 7.6), (4.96, 9.31),
    (5.6, 3.2), (5.7, 4.0), (5.5, 4.8), (5.7, 5.6), (5.6, 6.4), (5.5, 7.2), (5.7, 8.0), (5.6, 8.8), (5.68, 10.22),
    (6.3, 3.8), (6.4, 4.6), (6.2, 5.4), (6.4, 6.2), (6.3, 7.0), (6.2, 7.8), (6.4, 8.6), (6.3, 9.4), (6.5, 10.0),
    (7.35, 4.42), (7.0, 5.2), (7.1, 6.0), (6.9, 6.8), (7.1, 7.6), (7.0, 8.4), (6.9, 9.2), (7.1, 10.0), (6.92, 12.22), (7.0, 10.8),
    (7.97, 1.77), (8.06, 3.34), (7.7, 5.6), (7.8, 6.4), (7.6, 7.2), (7.8, 8.0), (7.7, 8.8), (7.6, 9.6), (7.8, 10.4), (7.9, 11.0),
    (8.62, 4.49), (8.4, 6.0), (8.5, 6.8), (8.3, 7.6), (8.5, 8.4), (8.4, 9.2), (8.3, 10.0), (8.5, 10.8), (8.6, 11.6),
    (9.1, 7.0), (9.2, 7.8), (9.0, 8.6), (9.2, 9.4), (9.1, 10.2), (9.0, 11.0), (9.2, 11.8), (9.08, 12.71),
    (10.06, 4.26), (9.89, 6.65), (9.8, 7.6), (9.9, 8.4), (9.7, 9.2), (9.9, 10.0), (9.8, 10.8), (9.7, 11.6), (9.9, 12.4), (10.06, 13.27),
    (10.64, 6.23), (10.97, 7.31), (10.5, 8.6), (10.6, 9.4), (10.4, 10.2), (10.6, 11.0), (10.5, 11.8), (10.4, 12.6), (10.6, 13.2),
    (11.2, 9.2), (11.3, 10.0), (11.1, 10.8), (11.3, 11.6), (11.2, 12.4), (11.1, 13.2), (11.4, 13.6),
    (12.21, 8.45), (12.47, 9.11), (11.9, 10.0), (12.0, 10.8), (11.8, 11.6), (12.0, 12.4), (11.9, 13.2), (12.1, 13.8),
    (12.6, 10.8), (12.7, 11.6), (12.5, 12.4), (12.7, 13.2), (12.6, 14.0), (12.8, 14.6),
    (13.3, 11.4), (13.4, 12.2), (13.2, 13.0), (13.4, 13.8), (13.3, 14.6), (13.5, 15.3),
    (14.43, 8.49), (14.0, 12.4), (14.1, 13.2), (13.9, 14.0), (14.1, 14.8), (14.0, 15.4), (14.37, 19.13),
    (14.7, 13.0), (14.8, 13.8), (14.6, 14.6), (14.8, 15.4), (14.7, 16.2), (15.21, 11.27),
    (15.7, 12.71), (15.4, 14.4), (15.5, 15.2), (15.3, 16.0), (15.38, 18.28), (15.87, 23.17), (15.6, 17.4), (15.9, 16.5),
    (16.1, 15.2), (16.2, 16.0), (16.4, 17.0), (16.6, 17.8), (16.3, 14.8), (17.0, 16.6), (16.8, 15.8),
    (17.24, 23.98), (17.4, 14.84), (17.5, 17.2), (17.2, 18.0), (17.7, 16.6), (17.9, 18.4), (18.0, 17.0), (18.3, 17.8), (18.6, 19.6), (18.4, 16.8),
    (19.0, 18.0), (19.43, 16.84), (18.9, 19.0), (19.4, 19.0), (18.2, 16.2),
    (21.38, 25.46), (21.12, 22.28), (21.87, 22.67), (22.2, 23.53), (26.05, 21.53), (22.46, 20.38), (21.55, 20.18), (21.03, 18.02), (21.48, 14.58),
]
offshore_carra_core = [
    (0.35, 1.0), (0.35, 1.8), (0.4, 2.6), (0.3, 3.4), (0.4, 4.2),
    (1.05, 0.8), (1.0, 1.6), (1.1, 2.4), (1.0, 3.2), (1.1, 4.0), (1.05, 4.8),
    (1.75, 1.4), (1.8, 2.2), (1.7, 3.0), (1.8, 3.8), (1.75, 4.6), (1.8, 5.4),
    (2.45, 1.6), (2.5, 2.4), (2.4, 3.2), (2.5, 4.0), (2.45, 4.8), (2.5, 5.4),
    (3.15, 1.6), (3.2, 2.4), (3.1, 3.2), (3.2, 4.0), (3.15, 4.8), (3.2, 5.6), (3.1, 6.4),
    (3.85, 2.4), (3.9, 3.2), (3.8, 4.0), (3.9, 4.8), (3.85, 5.6), (3.9, 6.4), (3.8, 7.0),
    (4.55, 2.6), (4.6, 3.4), (4.5, 4.2), (4.6, 5.0), (4.55, 5.8), (4.6, 6.6), (4.5, 7.4),
    (5.25, 3.0), (5.3, 3.8), (5.2, 4.6), (5.3, 5.4), (5.25, 6.2), (5.3, 7.0), (5.2, 7.8), (5.3, 8.6),
    (5.95, 3.6), (6.0, 4.4), (5.9, 5.2), (6.0, 6.0), (5.95, 6.8), (6.0, 7.6), (5.9, 8.4), (6.0, 9.2),
    (6.65, 4.2), (6.7, 5.0), (6.6, 5.8), (6.7, 6.6), (6.65, 7.4), (6.7, 8.2), (6.6, 9.0), (6.7, 9.8),
    (7.35, 5.2), (7.4, 6.0), (7.3, 6.8), (7.4, 7.6), (7.35, 8.4), (7.4, 9.2), (7.3, 10.0), (7.4, 10.8),
    (8.05, 5.6), (8.1, 6.4), (8.0, 7.2), (8.1, 8.0), (8.05, 8.8), (8.1, 9.6), (8.0, 10.4), (8.1, 11.2),
    (8.75, 6.4), (8.8, 7.2), (8.7, 8.0), (8.8, 8.8), (8.75, 9.6), (8.8, 10.4), (8.7, 11.2), (8.8, 12.0),
    (9.45, 7.2), (9.5, 8.0), (9.4, 8.8), (9.5, 9.6), (9.45, 10.4), (9.5, 11.2), (9.4, 12.0),
    (10.15, 8.0), (10.2, 8.8), (10.1, 9.6), (10.2, 10.4), (10.15, 11.2), (10.2, 12.0), (10.1, 12.8),
    (10.85, 8.8), (10.9, 9.6), (10.8, 10.4), (10.9, 11.2), (10.85, 12.0), (10.9, 12.8), (10.8, 13.6),
    (11.55, 9.6), (11.6, 10.4), (11.5, 11.2), (11.6, 12.0), (11.55, 12.8), (11.6, 13.6),
    (12.25, 10.4), (12.3, 11.2), (12.2, 12.0), (12.3, 12.8), (12.25, 13.6), (12.3, 14.4),
    (12.95, 11.2), (13.0, 12.0), (12.9, 12.8), (13.0, 13.6), (12.95, 14.4), (13.0, 15.0),
    (13.65, 12.0), (13.7, 12.8), (13.6, 13.6), (13.7, 14.4), (13.65, 15.2),
    (14.35, 12.8), (14.4, 13.6), (14.3, 14.4), (14.4, 15.2), (14.35, 16.0),
    (15.05, 13.6), (15.1, 14.4), (15.0, 15.2), (15.1, 16.0), (15.05, 16.8),
    (15.75, 14.4), (15.8, 15.2), (15.7, 16.0), (15.8, 16.8),
]

# linear fits shown by the red lines (slope, intercept)
fit_slopes = [0.217, 0.640, 0.671, 0.918, 0.845, 0.894]
fit_intercepts = [1.98, 2.76, 1.38, 1.58, 1.62, 1.31]

# ---------------- layout / style ----------------
W, H = 830, 1388
panels = [fjord_era5 + fjord_era5_core, fjord_carra + fjord_carra_core,
          coastal_era5 + coastal_era5_core, coastal_carra + coastal_carra_core,
          offshore_era5 + offshore_era5_core, offshore_carra + offshore_carra_core]
left_x = [(55, 412), (51.7, 411.7), (55, 412.3)]
right_x = (483.3, 830)
rows_y = [(64, 419), (524, 883), (996, 1352.3)]
title_y = [28, 492, 963]
xlabel_y = [446, 910, 1379]

GREEN = "#2E8B57"
BLUE = "#4682B4"
green_scale = [[0, "rgba(255,255,255,0)"], [0.1, "rgb(236,247,233)"], [0.5, "rgb(205,233,199)"],
               [0.9, "rgb(160,212,152)"], [1, "rgb(160,212,152)"]]
blue_scale = [[0, "rgba(255,255,255,0)"], [0.1, "rgb(229,239,249)"], [0.5, "rgb(198,219,239)"],
              [0.9, "rgb(150,190,225)"], [1, "rgb(150,190,225)"]]
AX = "#262626"
FONT = "DejaVu Sans"

grid = np.linspace(-5, 30, 141)


def px(x):
    return x / W


def py(y):
    return 1 - y / H


def kde_isoprop(pts, bw=0.34):
    p = np.asarray(pts, dtype=float)
    cov = np.cov(p.T) * bw ** 2
    inv = np.linalg.inv(cov)
    gx, gy = np.meshgrid(grid, grid)
    dens = np.zeros_like(gx)
    for qx, qy in p:
        dx = gx - qx
        dy = gy - qy
        q = inv[0, 0] * dx * dx + 2 * inv[0, 1] * dx * dy + inv[1, 1] * dy * dy
        dens += np.exp(-0.5 * q)
    flat = dens.ravel()
    order = np.argsort(flat)
    cum = np.cumsum(flat[order])
    cum /= cum[-1]
    t = np.empty_like(flat)
    t[order] = cum
    return t.reshape(dens.shape)


def rounded_rect(x0, y0, x1, y1, r=3):
    # pixel coordinates -> paper-coordinate SVG path with small rounded corners
    pts = [
        ("M", x0 + r, y0), ("L", x1 - r, y0), ("Q", x1, y0, x1, y0 + r),
        ("L", x1, y1 - r), ("Q", x1, y1, x1 - r, y1), ("L", x0 + r, y1),
        ("Q", x0, y1, x0, y1 - r), ("L", x0, y0 + r), ("Q", x0, y0, x0 + r, y0),
    ]
    out = []
    for seg in pts:
        cmd, vals = seg[0], seg[1:]
        coords = []
        for k in range(0, len(vals), 2):
            coords.append(f"{px(vals[k]):.5f},{py(vals[k + 1]):.5f}")
        out.append(cmd + " " + " ".join(coords))
    return " ".join(out) + " Z"


fig = go.Figure()
annotations = []
shapes = []
layout_axes = {}

for i, pts in enumerate(panels):
    row, col = divmod(i, 2)
    n = i + 1
    xa = "x" if n == 1 else f"x{n}"
    ya = "y" if n == 1 else f"y{n}"
    xkey = "xaxis" if n == 1 else f"xaxis{n}"
    ykey = "yaxis" if n == 1 else f"yaxis{n}"

    x0, x1 = left_x[row] if col == 0 else right_x
    ytop, ybot = rows_y[row]
    xr = [-5, 30] if col == 0 else [-5, 28.95]
    color = GREEN if col == 0 else BLUE
    cscale = green_scale if col == 0 else blue_scale

    xs = [p[0] for p in pts]
    ys = [p[1] for p in pts]

    # KDE fill (iso-proportion levels like seaborn)
    z = kde_isoprop(pts)
    fig.add_trace(go.Contour(
        x=grid, y=grid, z=z, xaxis=xa, yaxis=ya,
        contours=dict(start=0.05, end=1.0, size=0.95 / 9, coloring="fill", showlines=False),
        line=dict(width=0), colorscale=cscale, showscale=False,
        hoverinfo="skip", showlegend=False,
    ))
    # points
    fig.add_trace(go.Scatter(
        x=xs, y=ys, mode="markers", xaxis=xa, yaxis=ya,
        marker=dict(size=8, color=color, line=dict(color="white", width=0.7)),
        showlegend=False, hoverinfo="skip",
    ))
    # 1:1 line
    fig.add_trace(go.Scatter(
        x=[-5, 30], y=[-5, 30], mode="lines", xaxis=xa, yaxis=ya,
        line=dict(color="#808080", width=1.2, dash="5px,3px"),
        showlegend=False, hoverinfo="skip",
    ))
    # regression line
    a, b = fit_slopes[i], fit_intercepts[i]
    label = f"y={a:.1f}x+{b:.1f}"
    xmax = max(xs)
    fig.add_trace(go.Scatter(
        x=[0, xmax], y=[b, a * xmax + b], mode="lines", xaxis=xa, yaxis=ya,
        line=dict(color="red", width=2.6), name=label, showlegend=False,
    ))

    layout_axes[xkey] = dict(
        domain=[px(x0), px(x1)], range=xr, anchor=ya,
        showgrid=False, zeroline=False, showline=True, linecolor=AX, linewidth=1,
        mirror=True, ticks="outside", ticklen=4, tickwidth=1, tickcolor=AX,
        tickvals=tick_values, tickfont=dict(family=FONT, size=11, color=AX),
    )
    layout_axes[ykey] = dict(
        domain=[py(ybot), py(ytop)], range=[-5, 30], anchor=xa,
        showgrid=False, zeroline=False, showline=True, linecolor=AX, linewidth=1,
        mirror=(col == 0), ticks="outside", ticklen=4, tickwidth=1, tickcolor=AX,
        tickvals=tick_values, tickfont=dict(family=FONT, size=11, color=AX),
    )

    # legend box (matplotlib style) with red line sample and label
    shapes.append(dict(type="path", xref="paper", yref="paper",
                       path=rounded_rect(x0 + 7, ytop + 6, x0 + 133, ytop + 29),
                       fillcolor="rgba(255,255,255,0.85)", line=dict(color="#d4d4d4", width=1)))
    shapes.append(dict(type="line", xref="paper", yref="paper",
                       x0=px(x0 + 11), x1=px(x0 + 40), y0=py(ytop + 17.5), y1=py(ytop + 17.5),
                       line=dict(color="red", width=2.6)))
    annotations.append(dict(
        text=label, x=px(x0 + 48), y=py(ytop + 17.5), xref="paper", yref="paper",
        xanchor="left", yanchor="middle", showarrow=False,
        font=dict(family=FONT, size=13, color=AX),
    ))

    # axis titles
    full_w = 357
    xc = (x0 + x1) / 2 if col == 0 else x0 + full_w / 2
    annotations.append(dict(
        text=x_label, x=px(xc), y=py(xlabel_y[row]), xref="paper", yref="paper",
        xanchor="center", yanchor="middle", showarrow=False,
        font=dict(family=FONT, size=13, color=AX),
    ))
    annotations.append(dict(
        text=y_labels[col], x=px(x0 - 33), y=py((ytop + ybot) / 2),
        xref="paper", yref="paper", xanchor="center", yanchor="middle",
        textangle=-90, showarrow=False, font=dict(family=FONT, size=13, color=AX),
    ))

for r, t in enumerate(region_titles):
    annotations.append(dict(
        text=t, x=px(447), y=py(title_y[r]), xref="paper", yref="paper",
        xanchor="center", yanchor="middle", showarrow=False,
        font=dict(family="Liberation Serif", size=40, color="black", weight="bold"),
    ))

fig.update_layout(
    width=W, height=H, margin=dict(l=0, r=0, t=0, b=0),
    paper_bgcolor="white", plot_bgcolor="white", showlegend=False,
    annotations=annotations, shapes=shapes, **layout_axes,
)

fig.write_html("out.html", config={"displayModeBar": False},
               post_script="document.body.style.margin='0px';")
